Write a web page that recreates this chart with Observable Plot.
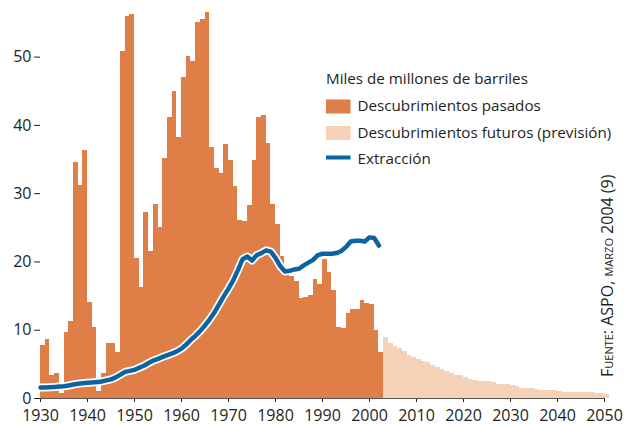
<!DOCTYPE html>
<html>
<head>
<meta charset="utf-8">
<script src="https://cdn.jsdelivr.net/npm/d3@7"></script>
<script src="https://cdn.jsdelivr.net/npm/@observablehq/plot@0.6"></script>
<style>
  body { margin: 0; background: #fff; }
  #chart { position: relative; width: 636px; height: 425px; }
</style>
</head>
<body>
<div id="chart"></div>
<script>
// ---- Data ----
const pastStartYear = 1930;
const pastDiscoveries = [
  7.7, 8.7, 3.4, 3.7, 0.8, 9.7, 11.3, 34.5, 31.2, 36.3,      // 1930-1939
  14.0, 10.4, 1.0, 3.7, 8.1, 8.1, 6.8, 50.8, 55.9, 56.2,     // 1940-1949
  20.5, 16.3, 27.3, 21.5, 28.4, 25.1, 35.2, 41.2, 45.0, 38.2, // 1950-1959
  47.0, 50.1, 49.3, 55.1, 55.5, 56.5, 36.8, 33.7, 32.9, 37.2, // 1960-1969
  34.8, 31.0, 26.1, 25.9, 28.2, 34.9, 41.2, 41.4, 37.4, 28.4, // 1970-1979
  25.5, 20.8, 18.4, 17.9, 17.1, 14.6, 14.8, 15.1, 17.5, 16.7, // 1980-1989
  20.4, 18.4, 15.8, 10.4, 10.2, 12.4, 13.1, 13.1, 14.3, 13.9, // 1990-1999
  13.7, 10.0, 6.8                                              // 2000-2002
];
const futureStartYear = 2003;
const futureDiscoveries = [
  9.0, 8.05, 7.65, 7.3, 6.9, 6.3, 6.05,                        // 2003-2009
  5.75, 5.45, 5.2, 4.9, 4.6, 4.3, 4.0, 3.7, 3.4, 3.3,          // 2010-2019
  3.1, 2.8, 2.7, 2.55, 2.55, 2.55, 2.4, 2.1, 2.1, 2.1,         // 2020-2029
  1.95, 1.7, 1.5, 1.5, 1.5, 1.3, 1.2, 1.2, 1.1, 1.2,           // 2030-2039
  1.0, 0.95, 0.95, 0.95, 0.95, 0.95, 0.95, 0.95, 0.75, 0.75,   // 2040-2049
  0.6                                                          // 2050
];
const extractionStartYear = 1930;
const extraction = [
  1.6, 1.6, 1.65, 1.7, 1.75, 1.8, 1.9, 2.05, 2.15, 2.25,      // 1930-1939
  2.3, 2.35, 2.4, 2.5, 2.65, 2.8, 3.1, 3.5, 3.9, 4.05,        // 1940-1949
  4.2, 4.5, 4.8, 5.2, 5.55, 5.8, 6.1, 6.35, 6.6, 6.9,         // 1950-1959
  7.3, 7.9, 8.6, 9.2, 9.9, 10.7, 11.6, 12.6, 13.8, 15.0,      // 1960-1969
  16.1, 17.3, 18.8, 20.4, 20.8, 20.2, 21.0, 21.3, 21.7, 21.5, // 1970-1979
  20.6, 19.4, 18.6, 18.7, 18.9, 19.0, 19.5, 19.9, 20.3, 21.0, // 1980-1989
  21.2, 21.2, 21.2, 21.3, 21.6, 22.2, 23.0, 23.1, 23.1, 23.0, // 1990-1999
  23.6, 23.5, 22.4                                             // 2000-2002
];
const xTickLabels = [1930, 1940, 1950, 1960, 1970, 1980, 1990, 2000, 2010, 2020, 2030, 2040, 2050];
const yTickLabels = [0, 10, 20, 30, 40, 50];
const legendTitle = "Miles de millones de barriles";
const seriesNames = ["Descubrimientos pasados", "Descubrimientos futuros (previsión)", "Extracción"];
const sourceText = "Fuente: ASPO, marzo 2004 (9)";

// ---- Styles ----
const COLOR_PAST = "#e07e47";
const COLOR_FUTURE = "#f4d1b7";
const COLOR_LINE = "#0b63a1";
const TEXT = "#231f20";
const FONT = "'Open Sans', 'Noto Sans', sans-serif";

const past = pastDiscoveries.map((v, i) => ({year: pastStartYear + i, value: v}));
const future = futureDiscoveries.map((v, i) => ({year: futureStartYear + i, value: v}));
const extr = extraction.map((v, i) => ({year: extractionStartYear + i, value: v}));

const plot = Plot.plot({
  width: 636,
  height: 425,
  marginLeft: 40,
  marginRight: 32,
  marginTop: 2,
  marginBottom: 27,
  style: {fontFamily: FONT, fontSize: "16px", color: TEXT, background: "#fff", overflow: "visible"},
  x: {domain: [1930, 2050], ticks: xTickLabels, tickFormat: "d", tickSize: 4, tickPadding: 7, label: null},
  y: {domain: [0, 58], ticks: yTickLabels, tickSize: 6, tickPadding: 3, label: null},
  marks: [
    Plot.rectY(past, {x: "year", y: "value", interval: 1, inset: 0, fill: COLOR_PAST, shapeRendering: "crispEdges"}),
    Plot.rectY(future, {x: "year", y: "value", interval: 1, inset: 0, fill: COLOR_FUTURE, shapeRendering: "crispEdges"}),
    Plot.ruleY([0], {stroke: "#555", strokeWidth: 1}),
    Plot.line(extr, {x: "year", y: "value", stroke: "#fff", strokeWidth: 8, strokeLinejoin: "round", strokeLinecap: "round"}),
    Plot.line(extr, {x: "year", y: "value", stroke: COLOR_LINE, strokeWidth: 4.5, strokeLinejoin: "round", strokeLinecap: "round"})
  ]
});

document.getElementById("chart").appendChild(plot);

// ---- Legend and source (text annotations) ----
const svg = d3.select(plot);
const g = svg.append("g").attr("font-family", FONT).attr("fill", TEXT).attr("text-anchor", "start");
g.append("text").attr("x", 326).attr("y", 84).attr("font-size", 15.2).text(legendTitle);
g.append("rect").attr("x", 326).attr("y", 99.5).attr("width", 24.5).attr("height", 14).attr("fill", COLOR_PAST);
g.append("text").attr("x", 357.5).attr("y", 111).attr("font-size", 15.2).text(seriesNames[0]);
g.append("rect").attr("x", 326).attr("y", 126).attr("width", 24.5).attr("height", 14).attr("fill", COLOR_FUTURE);
g.append("text").attr("x", 357.5).attr("y", 137.5).attr("font-size", 15.2).text(seriesNames[1]);
g.append("line").attr("x1", 326).attr("x2", 350.5).attr("y1", 157.5).attr("y2", 157.5)
  .attr("stroke", COLOR_LINE).attr("stroke-width", 4);
g.append("text").attr("x", 357.5).attr("y", 164).attr("font-size", 15.2).text(seriesNames[2]);
g.append("text")
  .attr("transform", "translate(613,377) rotate(-90)")
  .attr("font-size", 16)
  .style("font-variant", "small-caps")
  .text(sourceText);
</script>
</body>
</html>
